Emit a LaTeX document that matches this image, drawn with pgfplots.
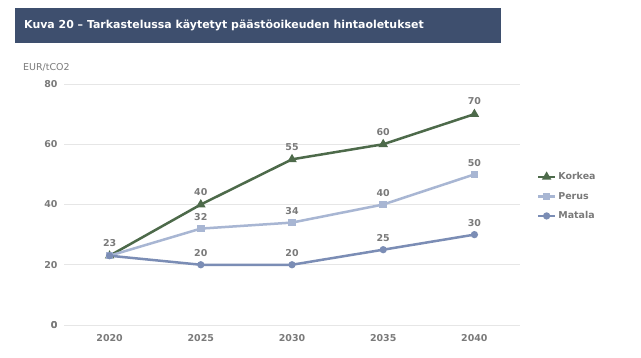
\documentclass[border=0pt]{standalone}
\usepackage{fontspec}
\setmainfont{DejaVu Sans}
\usepackage{pgfplots}
\pgfplotsset{compat=1.18}
\definecolor{titlebg}{HTML}{3E4F6E}
\definecolor{korkea}{HTML}{4D6A4A}
\definecolor{perus}{HTML}{A8B6D3}
\definecolor{matala}{HTML}{7B8DB5}
\definecolor{lbl}{HTML}{7A7A7A}
\definecolor{gridc}{HTML}{E6E6E6}
\begin{document}
\begin{tikzpicture}[x=1bp,y=1bp]
\fill[white] (0,0) rectangle (641,357);
\fill[titlebg] (15,349) rectangle (501,314);
\node[anchor=west,text=white,font=\bfseries\fontsize{11}{13}\selectfont,inner sep=0] at (24,331.5) {Kuva 20 – Tarkastelussa käytetyt päästöoikeuden hintaoletukset};
\node[anchor=west,text=lbl,font=\fontsize{9.5}{11}\selectfont,inner sep=0] at (23,290) {EUR/tCO2};
\begin{axis}[
  at={(64bp,32bp)}, anchor=south west,
  scale only axis, width=456bp, height=241bp,
  xmin=-0.5, xmax=4.5, ymin=0, ymax=80,
  xtick={0,1,2,3,4}, xticklabels={2020,2025,2030,2035,2040},
  ytick={0,20,40,60,80},
  axis line style={draw=none},
  axis x line*=bottom,
  tick style={draw=none},
  ymajorgrids, grid style={gridc, line width=0.8bp},
  extra y ticks={0}, extra y tick style={grid style={gridc,line width=1bp}},
  ticklabel style={text=lbl, font=\bfseries\fontsize{9.5}{11}\selectfont},
  /pgf/number format/assume math mode=true,
  yticklabel style={xshift=-3bp},
  xticklabel style={yshift=-6bp},
  clip=false,
  legend style={at={(1.03,0.65)}, anchor=north west, draw=none, fill=none,
    font=\bfseries\fontsize{9.5}{11}\selectfont, text=lbl, row sep=7bp,
    legend cell align=left},
  legend image code/.code={\draw[#1,mark repeat=2,mark phase=2] plot coordinates {(0cm,0cm) (0.3cm,0cm) (0.6cm,0cm)};},
  nodes near coords,
  every node near coord/.append style={text=lbl, font=\bfseries\fontsize{9.5}{11}\selectfont, yshift=4.5bp},
]
\addplot[korkea, line width=2.5bp, mark=triangle*, mark size=3bp, mark options={solid}]
  coordinates {(0,23) (1,40) (2,55) (3,60) (4,70)};
\addlegendentry{Korkea}
\addplot[perus, line width=2.5bp, mark=square*, mark size=2.5bp, nodes near coords={}]
  coordinates {(0,23) (1,32) (2,34) (3,40) (4,50)};
\addlegendentry{Perus}
\addplot[matala, line width=2.5bp, mark=*, mark size=2.3bp, nodes near coords={}]
  coordinates {(0,23) (1,20) (2,20) (3,25) (4,30)};
\addlegendentry{Matala}
\addplot[only marks, draw=none, mark=none, forget plot, nodes near coords]
  coordinates {(1,32) (2,34) (3,40) (4,50) (1,20) (2,20) (3,25) (4,30)};
\end{axis}
\end{tikzpicture}
\end{document}
